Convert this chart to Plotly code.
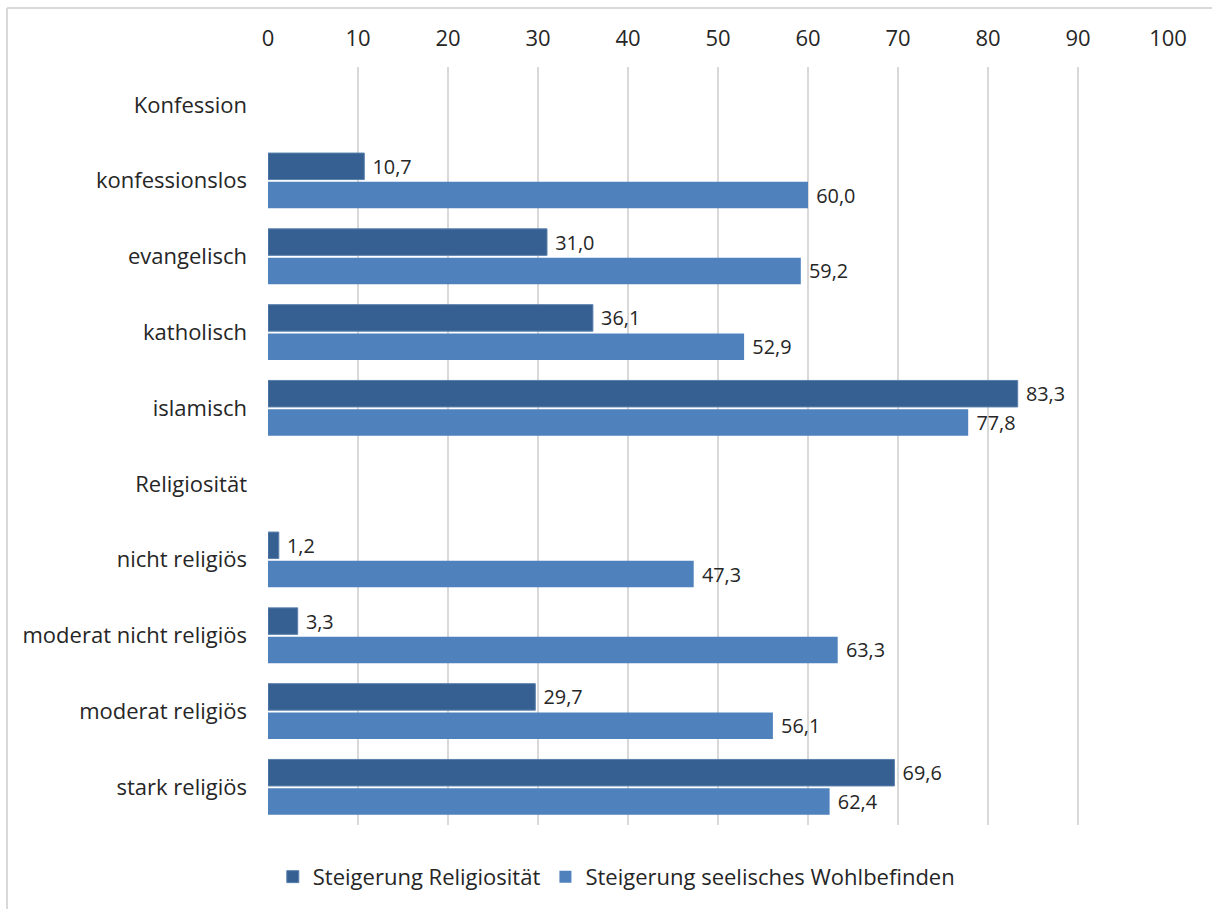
import plotly.graph_objects as go

categories = [
    "Konfession", "konfessionslos", "evangelisch", "katholisch", "islamisch",
    "Religiosität", "nicht religiös", "moderat nicht religiös",
    "moderat religiös", "stark religiös",
]
religiositaet = [None, 10.7, 31.0, 36.1, 83.3, None, 1.2, 3.3, 29.7, 69.6]
wohlbefinden = [None, 60.0, 59.2, 52.9, 77.8, None, 47.3, 63.3, 56.1, 62.4]
x_ticks = [0, 10, 20, 30, 40, 50, 60, 70, 80, 90, 100]

FONT = "Open Sans"
TEXT = "#262626"
SIZE = 22

fig = go.Figure()
fig.add_trace(go.Bar(
    name="Steigerung Religiosität", y=categories, x=religiositaet,
    orientation="h", marker=dict(color="#376092", line=dict(color="#5a80ad", width=1)),
    texttemplate=" %{x:.1f}", textposition="outside", cliponaxis=False,
    textfont=dict(family=FONT, size=SIZE - 1, color=TEXT),
))
fig.add_trace(go.Bar(
    name="Steigerung seelisches Wohlbefinden", y=categories, x=wohlbefinden,
    orientation="h", marker=dict(color="#4f81bd", line=dict(color="#4f81bd", width=0)),
    texttemplate=" %{x:.1f}", textposition="outside", cliponaxis=False,
    textfont=dict(family=FONT, size=SIZE - 1, color=TEXT),
))

# chart frame (top and left edges visible)
for x0, y0, x1, y1 in [(-0.29, 1.0777, 1.2, 1.0777), (-0.29, 1.0777, -0.29, -0.2)]:
    fig.add_shape(type="line", xref="paper", yref="paper", x0=x0, y0=y0, x1=x1, y1=y1,
                  line=dict(color="#d9d9d9", width=2))

fig.update_layout(
    width=1212, height=909,
    margin=dict(l=268, r=44, t=67, b=83),
    paper_bgcolor="white", plot_bgcolor="white",
    barmode="group", bargap=0.24, bargroupgap=0.08,
    separators=",.",
    font=dict(family=FONT, size=SIZE, color=TEXT),
    showlegend=True,
    legend=dict(orientation="h", x=0.387, xanchor="center", y=-0.067, yanchor="middle",
                font=dict(family=FONT, size=SIZE, color=TEXT), itemclick=False),
    xaxis=dict(
        side="top", range=[0, 100], tickvals=x_ticks, ticktext=[str(v) for v in x_ticks],
        showgrid=True, gridcolor="#d9d9d9", gridwidth=1.5, zeroline=False,
        showline=False, ticks="", ticklabelstandoff=16, fixedrange=True,
    ),
    yaxis=dict(
        type="category", categoryorder="array", categoryarray=categories,
        autorange="reversed", showgrid=False, showline=False, ticks="",
        ticklabelstandoff=20, fixedrange=True,
    ),
)

fig.write_html("out.html")
